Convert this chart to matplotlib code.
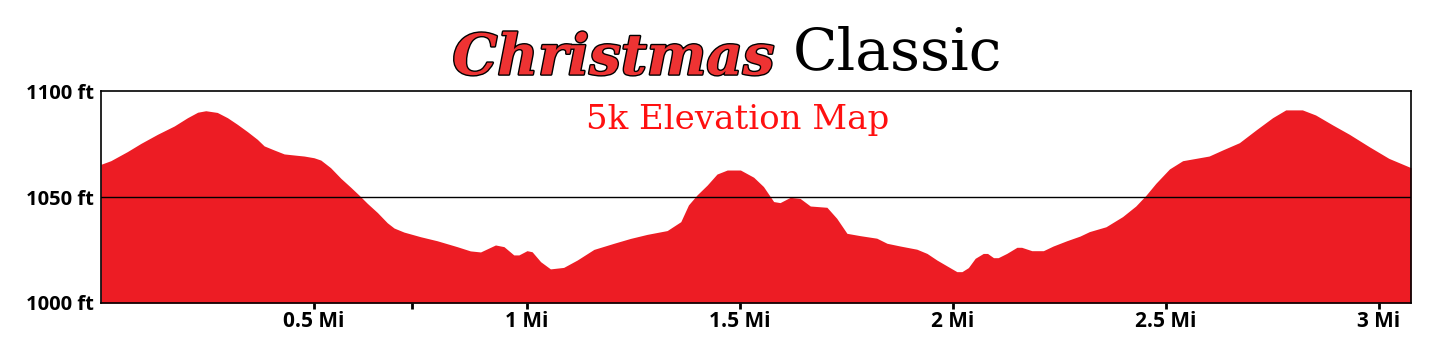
import matplotlib
matplotlib.use("Agg")
import matplotlib.pyplot as plt
import matplotlib.patheffects as pe

miles = [0.000, 0.023, 0.062, 0.094, 0.133, 0.172, 0.203, 0.227, 0.246, 0.273,
         0.297, 0.320, 0.344, 0.367, 0.383, 0.406, 0.430, 0.453, 0.477, 0.500,
         0.516, 0.539, 0.563, 0.586, 0.606, 0.625, 0.649, 0.672, 0.688, 0.711,
         0.750, 0.789, 0.836, 0.867, 0.891, 0.926, 0.946, 0.969, 0.981, 1.000,
         1.012, 1.032, 1.055, 1.086, 1.118, 1.157, 1.204, 1.243, 1.282, 1.329,
         1.361, 1.379, 1.399, 1.423, 1.446, 1.470, 1.501, 1.532, 1.555, 1.579,
         1.594, 1.618, 1.641, 1.665, 1.704, 1.727, 1.751, 1.782, 1.821, 1.845,
         1.876, 1.915, 1.939, 1.962, 1.985, 2.009, 2.021, 2.036, 2.052, 2.071,
         2.081, 2.095, 2.106, 2.126, 2.150, 2.161, 2.185, 2.212, 2.235, 2.267,
         2.298, 2.320, 2.359, 2.398, 2.429, 2.453, 2.476, 2.508, 2.539, 2.570,
         2.601, 2.633, 2.672, 2.711, 2.750, 2.781, 2.820, 2.851, 2.891, 2.930,
         2.977, 3.023, 3.075]
elev_ft = [1065.5, 1067.2, 1071.5, 1075.4, 1079.7, 1083.6, 1087.5, 1090.1, 1090.8, 1090.0,
           1087.5, 1084.4, 1080.9, 1077.3, 1074.2, 1072.3, 1070.4, 1069.9, 1069.4, 1068.6,
           1067.5, 1063.9, 1058.9, 1054.7, 1050.9, 1047.1, 1042.7, 1037.9, 1035.4, 1033.5,
           1031.3, 1029.4, 1026.6, 1024.6, 1024.1, 1027.4, 1026.6, 1022.7, 1022.7, 1024.7,
           1024.2, 1019.5, 1016.1, 1016.8, 1020.3, 1025.3, 1028.2, 1030.5, 1032.4, 1034.2,
           1038.4, 1046.3, 1051.0, 1055.7, 1060.9, 1062.8, 1062.8, 1059.4, 1055.0, 1047.9,
           1047.4, 1049.9, 1049.4, 1045.8, 1045.2, 1040.0, 1032.9, 1031.8, 1030.6, 1028.2,
           1026.9, 1025.4, 1023.4, 1020.3, 1017.6, 1014.8, 1014.8, 1016.7, 1021.1, 1023.4,
           1023.4, 1021.4, 1021.4, 1023.4, 1026.3, 1026.3, 1024.7, 1024.7, 1026.9, 1029.4,
           1031.6, 1033.7, 1036.0, 1040.8, 1045.8, 1050.9, 1056.5, 1063.3, 1067.2, 1068.3,
           1069.4, 1072.3, 1075.7, 1081.7, 1087.5, 1091.2, 1091.2, 1088.8, 1084.1, 1079.7,
           1073.8, 1068.3, 1063.9]

x_ticks = [0.5, 1.0, 1.5, 2.0, 2.5, 3.0]
x_tick_labels = ["0.5 Mi", "1 Mi", "1.5 Mi", "2 Mi", "2.5 Mi", "3 Mi"]
extra_tick = [0.73]
y_ticks = [1000, 1050, 1100]
y_tick_labels = ["1000 ft", "1050 ft", "1100 ft"]

fig = plt.figure(figsize=(14.36, 3.51), dpi=100)
ax = fig.add_axes([0.0703, 0.1368, 0.9123, 0.6032])

ax.fill_between(miles, elev_ft, 1000, color="#ED1C24", lw=0, zorder=1)
ax.axhline(1050, color="black", lw=1.0, zorder=3)

ax.set_xlim(0, 3.075)
ax.set_ylim(1000, 1100)

ax.set_xticks(x_ticks + extra_tick)
ax.set_xticklabels(x_tick_labels + [""], fontfamily="Open Sans",
                   fontweight="bold", fontsize=15)
ax.set_yticks(y_ticks)
ax.set_yticklabels(y_tick_labels, fontfamily="Open Sans",
                   fontweight="bold", fontsize=14.5)
ax.tick_params(axis="x", direction="out", length=4, width=2, pad=2, color="black")
ax.tick_params(axis="y", length=0, pad=5)
for s in ax.spines.values():
    s.set_color("black")
    s.set_linewidth(1.2)

ax.text(0.486, 0.822, "5k Elevation Map", transform=ax.transAxes,
        ha="center", va="baseline", fontfamily="DejaVu Serif",
        fontsize=24.5, color="#FF1010", zorder=4)

fig.text(0.4272, 0.788, "Christmas", ha="center", va="baseline",
         fontfamily="DejaVu Serif", fontstyle="italic", fontweight="bold",
         fontsize=40.5, color="#EE3333",
         path_effects=[pe.withStroke(linewidth=2, foreground="black")])
fig.text(0.6247, 0.8006, "Classic", ha="center", va="baseline",
         fontfamily="DejaVu Serif", fontsize=42, color="black")

fig.savefig("out.png", dpi=100, facecolor="white")
